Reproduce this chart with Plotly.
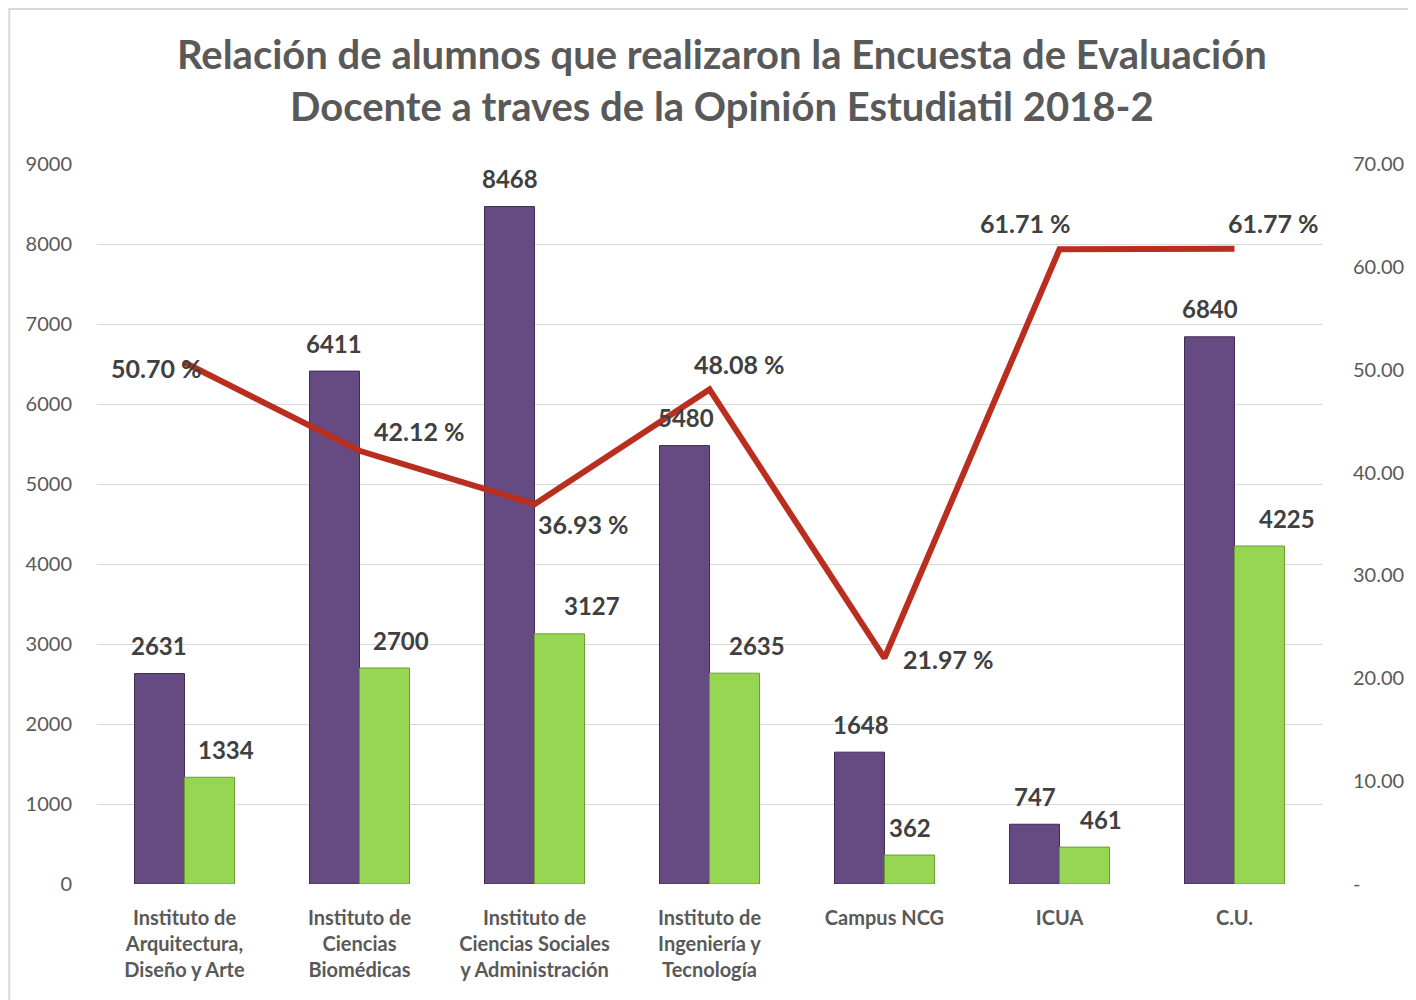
import plotly.graph_objects as go

categories = ["Instituto de<br>Arquitectura,<br>Diseño y Arte",
              "Instituto de<br>Ciencias<br>Biomédicas",
              "Instituto de<br>Ciencias Sociales<br>y Administración",
              "Instituto de<br>Ingeniería y<br>Tecnología",
              "Campus NCG", "ICUA", "C.U."]
inscritos = [2631, 6411, 8468, 5480, 1648, 747, 6840]
encuestados = [1334, 2700, 3127, 2635, 362, 461, 4225]
porcentaje = [50.70, 42.12, 36.93, 48.08, 21.97, 61.71, 61.77]

left_ticks = [0, 1000, 2000, 3000, 4000, 5000, 6000, 7000, 8000, 9000]
right_ticks = [0, 10, 20, 30, 40, 50, 60, 70]
right_ticktext = ["-" if v == 0 else f"{v:.2f}" for v in right_ticks]
cat_ticktext = [f"<b>{c}</b>" for c in categories]

# label offsets (px) for annotations
purple_dx = [-26, -26, -25, -24, -24, -25, -25]
green_dx = [41, 41, 57, 47, 25, 41, 52]
pct_dx = [-28, 60, 49, 30, 64, -34, 39]
pct_dy = [-5, 20, -20, 25, -1, 26, 26]

PURPLE = "#654B82"
GREEN = "#97D653"
RED = "#BA2E1F"
TXT = "#404040"
GRAY = "#595959"
FONT = "Lato"

fig = go.Figure()
fig.add_trace(go.Bar(x=categories, y=inscritos, name="Inscritos",
                     marker=dict(color=PURPLE, line=dict(color="#3E2C55", width=1))))
fig.add_trace(go.Bar(x=categories, y=encuestados, name="Encuestados",
                     marker=dict(color=GREEN, line=dict(color="#6A9E35", width=1))))
fig.add_trace(go.Scatter(x=categories, y=porcentaje, yaxis="y2", mode="lines",
                         line=dict(color=RED, width=6), name="%"))

ann = []
for c, v, dx in zip(categories, inscritos, purple_dx):
    ann.append(dict(x=c, y=v, xref="x", yref="y", text=f"<b>{v}</b>", showarrow=False,
                    xshift=dx, yshift=28, font=dict(size=24, color=TXT, family=FONT)))
for c, v, dx in zip(categories, encuestados, green_dx):
    ann.append(dict(x=c, y=v, xref="x", yref="y", text=f"<b>{v}</b>", showarrow=False,
                    xshift=dx, yshift=28, font=dict(size=24, color=TXT, family=FONT)))
for c, v, dx, dy in zip(categories, porcentaje, pct_dx, pct_dy):
    ann.append(dict(x=c, y=v, xref="x", yref="y2", text=f"<b>{v:.2f} %</b>", showarrow=False,
                    xshift=dx, yshift=dy, font=dict(size=25, color=TXT, family=FONT)))

fig.update_layout(
    width=1408, height=992,
    margin=dict(l=89, r=91, t=156, b=116),
    paper_bgcolor="white", plot_bgcolor="white",
    barmode="group", bargap=0.4286, bargroupgap=0,
    showlegend=False,
    font=dict(family=FONT, color=GRAY),
    title=dict(text="<b>Relación de alumnos que realizaron la Encuesta de Evaluación<br>Docente a traves de la Opinión Estudiatil 2018-2</b>",
               x=0.507, xanchor="center", y=0.939, yanchor="middle",
               font=dict(size=40, color=GRAY, family=FONT)),
    xaxis=dict(tickvals=categories, ticktext=cat_ticktext,
               tickfont=dict(size=20, color=GRAY, family=FONT), showgrid=False,
               showline=False, ticks="outside", ticklen=16, tickcolor="rgba(0,0,0,0)"),
    yaxis=dict(range=[0, 9000], tickvals=left_ticks, showgrid=True, gridcolor="#D9D9D9",
               gridwidth=1, zeroline=False, ticks="outside", ticklen=20,
               tickcolor="rgba(0,0,0,0)", tickfont=dict(size=20, color=GRAY, family=FONT)),
    yaxis2=dict(range=[0, 70], tickvals=right_ticks, ticktext=right_ticktext,
                overlaying="y", side="right", showgrid=False, zeroline=False,
                ticks="outside", ticklen=26, tickcolor="rgba(0,0,0,0)",
                tickfont=dict(size=20, color=GRAY, family=FONT)),
    annotations=ann,
    shapes=[dict(type="rect", xref="paper", yref="paper",
                 x0=(9 - 97) / 1228, x1=(1440 - 97) / 1228,
                 y0=(884 - 1010) / 720, y1=(884 - 9) / 720,
                 line=dict(color="#D9D9D9", width=2), layer="below")],
)
fig.write_html("out.html")
